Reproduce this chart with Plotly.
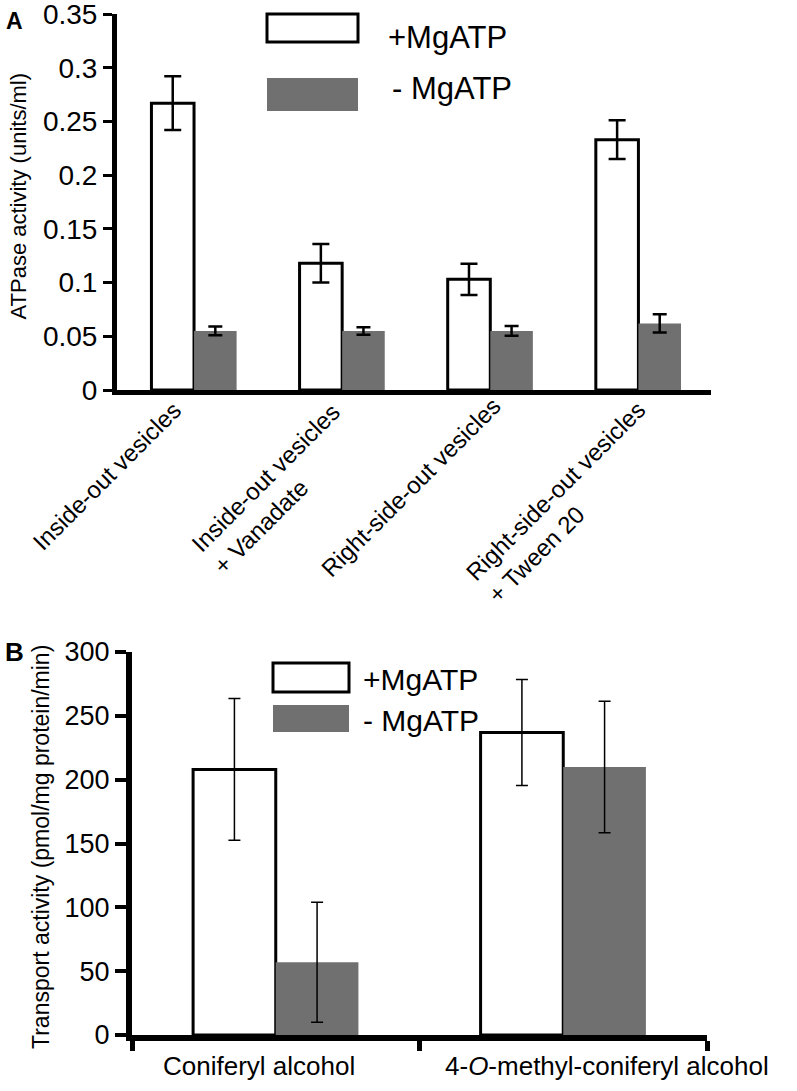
import plotly.graph_objects as go

W, H = 797, 1091
FONT = "Liberation Sans, Arial, Helvetica, sans-serif"
GRAY = "#707070"

# ---------------- Panel A data ----------------
a_categories = [
    "Inside-out vesicles",
    "Inside-out vesicles<br>+ Vanadate",
    "Right-side-out vesicles",
    "Right-side-out vesicles<br>+ Tween 20",
]
a_plus = [0.267, 0.118, 0.103, 0.233]
a_plus_err = [0.025, 0.018, 0.0145, 0.018]
a_minus = [0.055, 0.055, 0.055, 0.062]
a_minus_err = [0.004, 0.0035, 0.0045, 0.0085]
a_yticks = [0, 0.05, 0.1, 0.15, 0.2, 0.25, 0.3, 0.35]
a_yticktext = ["0", "0.05", "0.1", "0.15", "0.2", "0.25", "0.3", "0.35"]

# ---------------- Panel B data ----------------
b_categories = ["Coniferyl alcohol", "4-<i>O</i>-methyl-coniferyl alcohol"]
b_plus = [208, 237]
b_plus_err = [55.5, 41.5]
b_minus = [57, 210]
b_minus_err = [47, 51.5]
b_yticks = [0, 50, 100, 150, 200, 250, 300]

series_names = ["+MgATP", "- MgATP"]

# ---------------- label placement (pixel offsets, style only) ----------------
a_label_shift = [(-88, -86), (-66, -99), (-80, -97), (-72, -112)]
b_label_shift = [(-17, -31), (44, -31)]

a_idx = list(range(len(a_categories)))
b_idx = list(range(len(b_categories)))

fig = go.Figure()

fig.add_trace(go.Bar(
    x=a_idx, y=a_plus, name=series_names[0],
    marker=dict(color="white", line=dict(color="black", width=3)),
    error_y=dict(type="data", array=a_plus_err, color="black", thickness=2.5, width=8.5),
    xaxis="x", yaxis="y",
))
fig.add_trace(go.Bar(
    x=a_idx, y=a_minus, name=series_names[1],
    marker=dict(color=GRAY, line=dict(color=GRAY, width=0)),
    error_y=dict(type="data", array=a_minus_err, color="black", thickness=2.5, width=7),
    xaxis="x", yaxis="y",
))
fig.add_trace(go.Bar(
    x=b_idx, y=b_plus, name=series_names[0],
    marker=dict(color="white", line=dict(color="black", width=3)),
    error_y=dict(type="data", array=b_plus_err, color="black", thickness=1.5, width=6),
    xaxis="x2", yaxis="y2",
))
fig.add_trace(go.Bar(
    x=b_idx, y=b_minus, name=series_names[1],
    marker=dict(color=GRAY, line=dict(color=GRAY, width=0)),
    error_y=dict(type="data", array=b_minus_err, color="black", thickness=1.5, width=6),
    xaxis="x2", yaxis="y2",
))

def px_x(p):
    return p / W

def px_y(p):
    return 1 - p / H

annotations = []
# panel A category labels
for i, txt in enumerate(a_categories):
    dx, dy = a_label_shift[i]
    annotations.append(dict(
        x=a_idx[i], y=0, xref="x", yref="y", text=txt, showarrow=False,
        textangle=-45, align="left", xanchor="center", yanchor="middle",
        xshift=dx, yshift=dy, font=dict(family=FONT, size=24, color="black"),
    ))
# panel B category labels
for i, txt in enumerate(b_categories):
    dx, dy = b_label_shift[i]
    annotations.append(dict(
        x=b_idx[i], y=0, xref="x2", yref="y2", text=txt, showarrow=False,
        xanchor="center", yanchor="middle", xshift=dx, yshift=dy,
        font=dict(family=FONT, size=26, color="black"),
    ))
# axis titles
annotations.append(dict(
    x=px_x(18), y=px_y(196.5), xref="paper", yref="paper",
    text="ATPase activity (units/ml)", textangle=-90, showarrow=False,
    xanchor="center", yanchor="middle", font=dict(family=FONT, size=22, color="black"),
))
annotations.append(dict(
    x=px_x(41), y=px_y(847), xref="paper", yref="paper",
    text="Transport activity (pmol/mg protein/min)", textangle=-90, showarrow=False,
    xanchor="center", yanchor="middle", font=dict(family=FONT, size=23, color="black"),
))
# panel letters
annotations.append(dict(x=px_x(14), y=px_y(21), xref="paper", yref="paper", text="<b>A</b>",
                        showarrow=False, xanchor="center", yanchor="middle",
                        font=dict(family=FONT, size=23, color="black")))
annotations.append(dict(x=px_x(14), y=px_y(652), xref="paper", yref="paper", text="<b>B</b>",
                        showarrow=False, xanchor="center", yanchor="middle",
                        font=dict(family=FONT, size=26, color="black")))
# legend texts
annotations.append(dict(x=px_x(386), y=px_y(37), xref="paper", yref="paper", text=series_names[0],
                        showarrow=False, xanchor="left", yanchor="middle",
                        font=dict(family=FONT, size=31, color="black")))
annotations.append(dict(x=px_x(390), y=px_y(89), xref="paper", yref="paper", text=series_names[1],
                        showarrow=False, xanchor="left", yanchor="middle",
                        font=dict(family=FONT, size=31, color="black")))
annotations.append(dict(x=px_x(361), y=px_y(679), xref="paper", yref="paper", text=series_names[0],
                        showarrow=False, xanchor="left", yanchor="middle",
                        font=dict(family=FONT, size=30, color="black")))
annotations.append(dict(x=px_x(361), y=px_y(720), xref="paper", yref="paper", text=series_names[1],
                        showarrow=False, xanchor="left", yanchor="middle",
                        font=dict(family=FONT, size=30, color="black")))

shapes = [
    dict(type="rect", xref="paper", yref="paper", x0=px_x(267), x1=px_x(358),
         y0=px_y(42), y1=px_y(14), line=dict(color="black", width=3), fillcolor="white"),
    dict(type="rect", xref="paper", yref="paper", x0=px_x(267), x1=px_x(358),
         y0=px_y(111), y1=px_y(78), line=dict(width=0), fillcolor=GRAY),
    dict(type="rect", xref="paper", yref="paper", x0=px_x(273), x1=px_x(349),
         y0=px_y(692), y1=px_y(663), line=dict(color="black", width=3), fillcolor="white"),
    dict(type="rect", xref="paper", yref="paper", x0=px_x(273), x1=px_x(349),
         y0=px_y(732), y1=px_y(705), line=dict(width=0), fillcolor=GRAY),
]

common_x = dict(showgrid=False, zeroline=False, showline=True, linecolor="black",
                showticklabels=False, fixedrange=True, automargin=False)
common_y = dict(showgrid=False, zeroline=False, showline=True, linecolor="black",
                ticks="outside", tickcolor="black", fixedrange=True, automargin=False,
                ticklabeloverflow="allow")

fig.update_layout(
    template="none",
    width=W, height=H,
    margin=dict(l=0, r=0, t=0, b=0, pad=0),
    paper_bgcolor="white", plot_bgcolor="white",
    showlegend=False,
    barmode="group", bargap=0.425, bargroupgap=0,
    font=dict(family=FONT, color="black"),
    xaxis=dict(domain=[px_x(117), px_x(711)], range=[-0.52, 3.49], anchor="y",
               linewidth=5, ticks="", **common_x),
    yaxis=dict(domain=[px_y(390), px_y(14)], range=[0, 0.35001], anchor="x",
               tickmode="array", tickvals=a_yticks, ticktext=a_yticktext,
               ticklen=9, tickwidth=3, linewidth=5,
               tickfont=dict(family=FONT, size=28, color="black"), **common_y),
    xaxis2=dict(domain=[px_x(132), px_x(707)], range=[-0.5, 1.5], anchor="y2",
                tickvals=[-0.5, 0.5, 1.5], ticks="outside", ticklen=10, tickwidth=5,
                tickcolor="black", linewidth=6, **common_x),
    yaxis2=dict(domain=[px_y(1035), px_y(652)], range=[0, 300], anchor="x2",
                tickvals=b_yticks, ticklen=11, tickwidth=4, linewidth=6,
                tickfont=dict(family=FONT, size=27, color="black"), **common_y),
    annotations=annotations,
    shapes=shapes,
)

# remove the browser's default 8px page margin so the figure fills the window exactly
fig.write_html(
    "out.html",
    config={"displayModeBar": False, "staticPlot": True},
    post_script="document.body.style.margin='0';document.body.style.overflow='hidden';",
)
